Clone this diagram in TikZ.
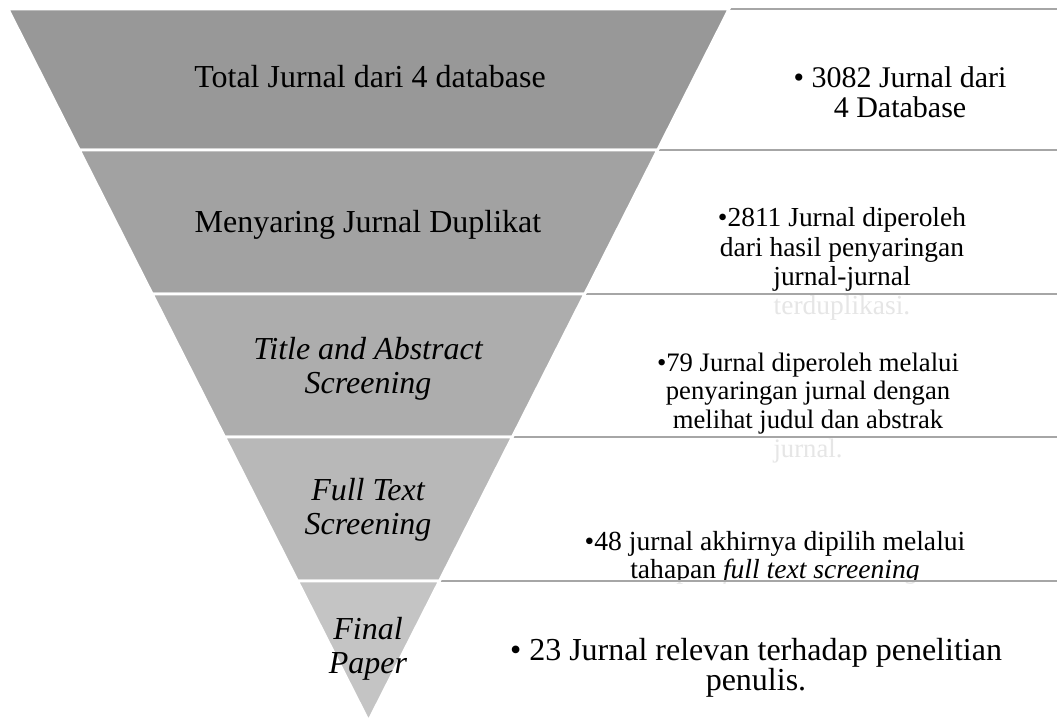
\documentclass[tikz,border=0pt]{standalone}
\usepackage{fontspec}
\setmainfont{Liberation Serif}
\usepackage{tikz}
\definecolor{bandA}{RGB}{152,152,152}
\definecolor{bandB}{RGB}{162,162,162}
\definecolor{bandC}{RGB}{173,173,173}
\definecolor{bandD}{RGB}{184,184,184}
\definecolor{bandE}{RGB}{196,196,196}
\definecolor{boxline}{RGB}{166,166,166}

\begin{document}
\begin{tikzpicture}[x=0.75pt,y=-0.75pt,
	band/.style={draw=white,line width=2pt,fill=#1},
	infobox/.style={draw=boxline,line width=2pt,fill=white,fill opacity=0.9},
	stagetext/.style={font=\fontsize{24}{25}\selectfont,align=center,anchor=base},
	counttext/.style 2 args={font=\fontsize{#1}{#2}\selectfont,align=center,anchor=base}]
	\useasboundingbox (0,0) rectangle (1057,720);
	\clip (0,0) rectangle (1057,720);

	\path[infobox] (368,9) rectangle (1070,150);
	\node[counttext={22.5}{22.5}] (R1) at (900,118) {• 3082 Jurnal dari\\4 Database};
	\path[infobox] (368,150) rectangle (1070,294);
	\node[counttext={20.6}{22}] (R2) at (842,315) {•2811 Jurnal diperoleh\\dari hasil penyaringan\\jurnal-jurnal\\terduplikasi.};
	\path[infobox] (368,294) rectangle (1070,437);
	\node[counttext={20}{21.4}] (R3) at (808,457) {•79 Jurnal diperoleh melalui\\penyaringan jurnal dengan\\melihat judul dan abstrak\\jurnal.};
	\path[infobox] (368,437) rectangle (1070,581);
	\node[counttext={20.7}{21}] (R4) at (775,578) {•48 jurnal akhirnya dipilih melalui\\tahapan \textit{full text screening}};
	\path[infobox] (368,581) rectangle (1070,740);
	\node[counttext={24}{22.5}] (R5) at (756,690) {• 23 Jurnal relevan terhadap penelitian\\penulis.};

	\path[band=bandA] (8,9) -- (729,9) -- (657.6,150) -- (79.4,150) -- cycle;
	\path[band=bandB] (79.4,150) -- (657.6,150) -- (584.7,294) -- (152.3,294) -- cycle;
	\path[band=bandC] (152.3,294) -- (584.7,294) -- (512.3,437) -- (224.7,437) -- cycle;
	\path[band=bandD] (224.7,437) -- (512.3,437) -- (439.4,581) -- (297.6,581) -- cycle;
	\path[band=bandE] (297.6,581) -- (439.4,581) -- (368.5,721) -- cycle;

	\node[stagetext] (S1) at (370,88) {Total Jurnal dari 4 database};
	\node[stagetext] (S2) at (368,233) {Menyaring Jurnal Duplikat};
	\node[stagetext,font=\fontsize{24}{25}\selectfont\itshape] (S3) at (368,393) {Title and Abstract\\Screening};
	\node[stagetext,font=\fontsize{24}{25}\selectfont\itshape] (S4) at (368,534) {Full Text\\Screening};
	\node[stagetext,font=\fontsize{24}{25}\selectfont\itshape] (S5) at (368,673) {Final\\Paper};
\end{tikzpicture}
\end{document}
